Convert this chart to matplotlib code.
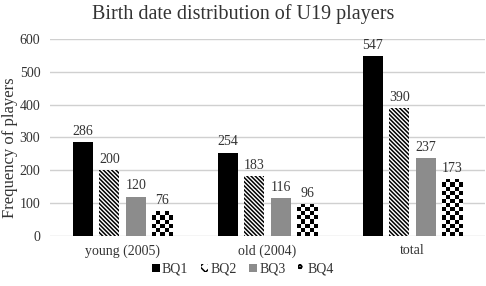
import matplotlib
matplotlib.use("Agg")
import matplotlib.pyplot as plt
import matplotlib.patches as mpatches
import numpy as np

categories = ["young (2005)", "old (2004)", "total"]
series_names = ["BQ1", "BQ2", "BQ3", "BQ4"]
BQ1 = [286, 254, 547]
BQ2 = [200, 183, 390]
BQ3 = [120, 116, 237]
BQ4 = [76, 96, 173]
yticks = [0, 100, 200, 300, 400, 500, 600]

plt.rcParams['font.family'] = ['Liberation Serif', 'DejaVu Serif']
plt.rcParams['hatch.linewidth'] = 1.1

fig = plt.figure(figsize=(4.86, 2.86), dpi=100)
ax = fig.add_axes([0.103, 0.175, 0.895, 0.689])

x = np.arange(len(categories))
width = 0.14
step = 0.183
offsets = (np.arange(4) - 1.5) * step
values = [BQ1, BQ2, BQ3, BQ4]
hatch2 = "\\" * 8
styles = [
    dict(color="black"),
    dict(facecolor="white", edgecolor="black", hatch=hatch2, linewidth=0),
    dict(color="#8c8c8c"),
    dict(facecolor="white", edgecolor="white", linewidth=0),
]
bars_all = []
for i, (vals, st) in enumerate(zip(values, styles)):
    bars = ax.bar(x + offsets[i], vals, width, label=series_names[i], zorder=3, **st)
    bars_all.append(bars)
    ax.bar_label(bars, padding=3, fontsize=10, color="#333333")

# checkerboard fill for BQ4
cell = 12.5
for b in bars_all[3]:
    x0, y0 = b.get_x(), b.get_y()
    w, h = b.get_width(), b.get_height()
    nx = 5
    ny = int(np.ceil(h / cell))
    img = (np.add.outer(np.arange(ny), np.arange(nx)) % 2).astype(float)
    im = ax.imshow(img, cmap="gray", vmin=0, vmax=1, extent=(x0, x0 + w, y0, y0 + ny * cell),
                   origin="lower", aspect="auto", zorder=4, interpolation="nearest")
    im.set_clip_path(b)

ax.set_xlim(-0.5, 2.5)
ax.set_ylim(0, 600)
ax.set_yticks(yticks)
ax.set_xticks(x)
ax.set_xticklabels(categories, fontsize=10, color="#333333")
ax.tick_params(axis='y', labelsize=10, colors="#333333", length=0, pad=7)
ax.tick_params(axis='x', length=0, pad=6)
ax.grid(axis='y', color="#d0d0d0", linewidth=1, zorder=0)
for s in ax.spines.values():
    s.set_visible(False)
ax.set_ylabel("Frequency of players", fontsize=12, color="#333333")
ax.yaxis.set_label_coords(-0.074, 0.45)
fig.suptitle("Birth date distribution of U19 players", fontsize=14.5, color="#333333", y=0.985)

handles = [
    mpatches.Patch(facecolor="black"),
    mpatches.Patch(facecolor="white", edgecolor="black", hatch="xxx", linewidth=0),
    mpatches.Patch(facecolor="#8c8c8c"),
    mpatches.Patch(facecolor="white", edgecolor="black", hatch="oo", linewidth=0),
]
fig.legend(handles, series_names, loc="center", bbox_to_anchor=(0.5, 0.058), ncol=4,
           frameon=False, fontsize=10, handlelength=0.55, handleheight=0.55,
           handletextpad=0.15, columnspacing=0.9, labelcolor="#333333")

fig.savefig("out.png", dpi=100)
